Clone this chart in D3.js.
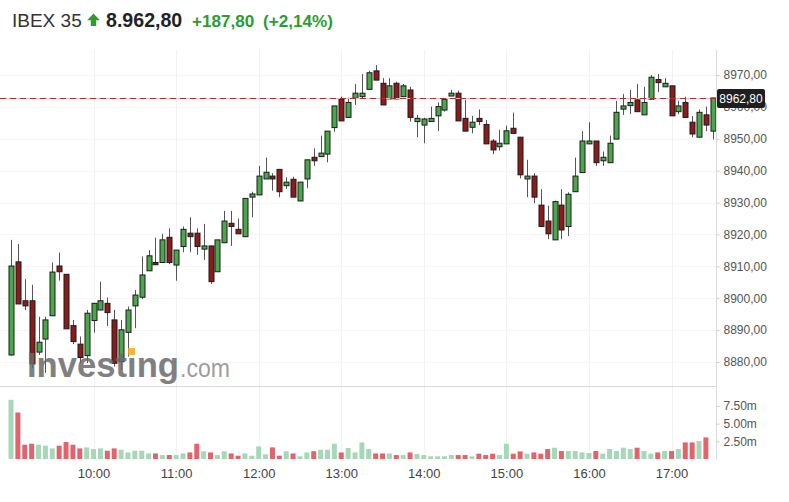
<!DOCTYPE html>
<html><head><meta charset="utf-8">
<script src="https://cdn.jsdelivr.net/npm/d3@7"></script>
<style>body{margin:0;background:#fff}svg{display:block;font-family:"Liberation Sans",Arial,sans-serif}</style>
</head><body><svg id="c" width="789" height="502"></svg>
<script>
const opens=[8882.2,8911.4,8899.2,8899.2,8883.1,8887.2,8894.5,8910.1,8907.5,8891.4,8885.6,8882.0,8893.0,8896.3,8898.4,8893.2,8880.1,8889.3,8897.6,8900.3,8908.6,8911.2,8911.2,8919.1,8910.4,
8916.2,8920.4,8920.4,8915.4,8916.4,8908.3,8917.4,8923.5,8921.6,8919.3,8931.7,8932.4,8937.4,8938.3,8940.4,8935.3,8937.3,8930.5,8937.4,8944.2,8944.4,8945.2,8953.5,8962.4,8956.7,
8962.7,8963.2,8965.5,8971.3,8967.4,8962.5,8967.4,8963.2,8965.3,8955.4,8954.3,8955.4,8957.2,8959.0,8963.4,8964.3,8956.4,8953.6,8956.4,8954.5,8949.3,8947.5,8948.4,8953.3,8950.5,
8937.4,8938.3,8929.2,8924.2,8918.3,8929.2,8922.5,8933.4,8939.4,8948.4,8949.3,8943.1,8942.5,8949.9,8959.3,8960.4,8962.2,8957.5,8962.4,8968.6,8966.3,8966.6,8958.5,8961.4,8955.2,8950.5,8957.5,8952.4];
const highs=[8918.3,8917.0,8906.0,8904.2,8894.2,8894.2,8911.2,8914.3,8907.5,8893.2,8888.0,8896.3,8898.4,8905.2,8900.2,8896.3,8893.2,8897.4,8902.6,8913.1,8915.1,8919.0,8920.2,8921.9,8915.1,
8922.5,8925.4,8921.9,8923.3,8916.4,8918.3,8927.4,8927.4,8925.0,8931.3,8933.4,8941.5,8944.1,8939.2,8940.4,8937.9,8938.1,8936.4,8943.4,8947.0,8951.0,8952.4,8960.3,8963.2,8962.9,
8967.2,8970.3,8971.3,8973.1,8969.0,8969.0,8967.9,8967.2,8966.3,8957.5,8956.6,8960.1,8961.4,8962.4,8965.3,8965.1,8962.2,8957.2,8959.2,8955.9,8949.9,8952.8,8954.1,8958.2,8950.5,
8943.4,8939.2,8934.2,8929.0,8930.6,8934.2,8933.2,8944.1,8952.4,8955.2,8949.3,8946.0,8951.0,8961.9,8964.0,8965.3,8967.2,8966.3,8970.0,8970.3,8969.0,8966.6,8961.9,8963.2,8957.1,8959.2,8960.1,8962.8];
const lows=[8882.0,8898.2,8896.3,8878.0,8882.2,8876.6,8894.5,8905.5,8890.4,8885.6,8879.6,8879.7,8889.2,8896.3,8891.3,8878.6,8877.5,8881.7,8890.6,8899.7,8908.6,8910.4,8911.2,8910.7,8905.5,
8914.4,8914.4,8913.6,8912.0,8904.5,8908.3,8917.4,8916.4,8920.2,8919.3,8925.4,8932.4,8937.4,8933.7,8931.7,8934.3,8931.7,8930.5,8934.5,8941.5,8944.4,8942.6,8952.2,8955.6,8956.7,
8960.6,8962.7,8965.5,8968.4,8960.6,8962.5,8962.5,8963.2,8955.4,8950.5,8948.6,8955.4,8952.4,8958.5,8963.4,8955.6,8952.4,8951.7,8954.3,8948.4,8945.2,8946.3,8948.4,8951.7,8937.6,
8931.7,8929.8,8922.5,8918.5,8918.3,8918.5,8919.5,8933.4,8939.4,8948.4,8941.5,8941.5,8942.5,8949.9,8957.5,8957.8,8958.5,8957.5,8962.4,8964.6,8966.3,8957.2,8957.7,8956.7,8950.5,8950.5,8952.4,8949.8];
const closes=[8910.1,8898.2,8897.6,8879.4,8886.2,8893.2,8908.2,8908.3,8890.4,8886.4,8881.4,8895.3,8898.4,8899.2,8895.5,8879.6,8890.1,8896.3,8901.0,8907.3,8913.3,8910.5,8918.3,8911.2,8915.1,
8921.6,8919.3,8916.2,8916.4,8905.2,8918.3,8924.2,8922.5,8920.2,8931.3,8932.7,8938.3,8939.5,8937.4,8933.4,8936.4,8931.7,8936.4,8943.4,8943.1,8945.5,8952.4,8960.3,8955.6,8961.4,
8964.3,8964.3,8970.7,8968.4,8960.6,8966.6,8962.5,8966.6,8956.7,8956.4,8956.2,8956.4,8960.1,8962.4,8964.3,8955.6,8952.4,8955.2,8955.4,8948.4,8946.5,8948.6,8952.5,8951.7,8938.7,
8938.3,8931.7,8922.5,8920.2,8930.3,8921.4,8932.6,8938.3,8949.3,8949.3,8942.5,8944.2,8948.6,8958.3,8960.3,8961.4,8958.5,8961.4,8969.3,8967.6,8967.4,8957.2,8960.3,8956.7,8951.5,8958.3,8954.3,8962.8];
const volumes=[8.37,6.58,2.02,2.16,2.02,1.88,1.5,1.88,2.4,2.02,1.5,1.64,1.41,1.5,1.17,1.5,1.31,0.93,1.17,1.17,0.79,0.79,0.56,0.56,0.56,0.79,0.93,2.16,1.1,0.93,
0.56,1.1,0.79,0.47,0.79,0.47,1.78,0.66,1.64,0.47,1.1,0.79,0.38,0.93,1.1,1.31,1.31,2.16,0.93,1.55,0.93,2.35,1.41,0.79,0.79,0.79,
0.56,0.56,0.93,0.7,0.56,0.38,0.38,0.38,0.56,0.56,0.56,0.38,0.75,0.56,0.75,0.56,2.16,0.75,1.08,0.75,0.93,0.75,1.41,1.6,1.13,1.13,1.13,0.93,0.85,1.13,
0.75,1.41,1.13,1.6,1.41,1.6,1.13,0.75,0.93,1.13,1.13,1.41,2.35,2.35,2.54,3.05];
const priceTicks=[8880,8890,8900,8910,8920,8930,8940,8950,8960,8970];
const volumeTicks=[2.5,5,7.5];
const hourLabels=["10:00","11:00","12:00","13:00","14:00","15:00","16:00","17:00"];
const lastPrice=8962.80;
const headerName="IBEX 35", headerPrice="8.962,80", headerChange="+187,80", headerPct="(+2,14%)";

const svg=d3.select("#c");
svg.append("rect").attr("width",789).attr("height",502).attr("fill","#fff");
const day=(h,m)=>new Date(2020,0,1,h,m);
const times=opens.map((_,i)=>day(9,5*i));
const x=d3.scaleTime().domain([day(9,0),day(17,0)]).range([11,671.5]);
const y=d3.scaleLinear().domain([8880,8970]).range([362,75]);
const yv=d3.scaleLinear().domain([0,7.5]).range([459,406]);
const plotR=716;
const hours=hourLabels.map(s=>{const [h,m]=s.split(":");return day(+h,+m);});

// header
const G="#2d9d2d";
svg.append("text").attr("x",12).attr("y",27).attr("font-size",19).attr("fill","#333").text(headerName);
svg.append("path").attr("d","M93.5,13.5 L99.8,20.3 L96.2,20.3 L96.2,26 L90.8,26 L90.8,20.3 L87.2,20.3 Z").attr("fill",G);
svg.append("text").attr("x",106).attr("y",27).attr("font-size",19.6).attr("font-weight","bold").attr("fill","#222").text(headerPrice);
svg.append("text").attr("x",192).attr("y",27).attr("font-size",17.1).attr("font-weight","bold").attr("fill",G).text(headerChange);
svg.append("text").attr("x",263).attr("y",27).attr("font-size",17.1).attr("font-weight","bold").attr("fill",G).text(headerPct);

// grid
svg.append("g").selectAll("line").data(hours).join("line")
  .attr("x1",d=>Math.round(x(d))+0.5).attr("x2",d=>Math.round(x(d))+0.5).attr("y1",50).attr("y2",459)
  .attr("stroke","#f2f2f2");
svg.append("g").selectAll("line").data(priceTicks).join("line")
  .attr("x1",0).attr("x2",plotR).attr("y1",d=>Math.round(y(d))+0.5).attr("y2",d=>Math.round(y(d))+0.5)
  .attr("stroke","#f6f6f6");
// separator
svg.append("line").attr("x1",0).attr("x2",plotR).attr("y1",386.5).attr("y2",386.5).attr("stroke","#d9d9d9");

// volume bars
const up=i=>closes[i]>=opens[i];
svg.append("g").selectAll("rect").data(volumes).join("rect")
  .attr("x",(d,i)=>x(times[i])-2.5).attr("width",5)
  .attr("y",d=>yv(d)).attr("height",d=>yv(0)-yv(d))
  .attr("fill",(d,i)=>up(i)?"#a6d8b8":"#e2636c");

// candles
const cg=svg.append("g");
opens.forEach((o,i)=>{
  const cx=Math.round(x(times[i]))+0.5;
  cg.append("line").attr("x1",cx).attr("x2",cx).attr("y1",y(highs[i])).attr("y2",y(lows[i])).attr("stroke","#555").attr("stroke-width",1);
  const top=y(Math.max(o,closes[i])), bot=y(Math.min(o,closes[i]));
  cg.append("rect").attr("x",cx-2.5).attr("width",5).attr("y",top).attr("height",Math.max(2,bot-top))
    .attr("fill",up(i)?"#4aa84a":"#8c1b1b").attr("stroke","#1b1b1b").attr("stroke-width",1);
});

// last price line
const ly=Math.round(y(lastPrice))+0.5;
svg.append("line").attr("x1",0).attr("x2",plotR).attr("y1",ly).attr("y2",ly).attr("stroke","#f3b9b9").attr("stroke-width",1);
svg.append("line").attr("x1",0).attr("x2",plotR).attr("y1",ly).attr("y2",ly).attr("stroke","#a83232").attr("stroke-width",1).attr("stroke-dasharray","6,4");

// watermark
const wm=svg.append("g").attr("opacity",0.85);
wm.append("text").attr("x",27).attr("y",377).attr("font-size",35).attr("font-weight","bold").attr("fill","#6a6a6a")
  .attr("textLength",152).attr("lengthAdjust","spacingAndGlyphs").text("Investing");
wm.append("text").attr("x",180).attr("y",377).attr("font-size",25).attr("fill","#8d8d8d")
  .attr("textLength",50).attr("lengthAdjust","spacingAndGlyphs").text(".com");
wm.append("rect").attr("x",128).attr("y",348).attr("width",7).attr("height",7).attr("fill","#f5a623");

// price axis
const fmt=d=>d3.format(".2f")(d).replace(".",",");
const pa=svg.append("g").attr("transform",`translate(${plotR+0.5},0)`)
  .call(d3.axisRight(y).tickValues(priceTicks).tickSize(3).tickPadding(4).tickFormat(fmt));
pa.select(".domain").remove();
pa.selectAll("line").attr("stroke","#ccc");
pa.selectAll("text").attr("font-size",12).attr("fill","#555").attr("font-family","Liberation Sans, Arial, sans-serif");
svg.append("line").attr("x1",plotR+0.5).attr("x2",plotR+0.5).attr("y1",50).attr("y2",460).attr("stroke","#dcdcdc");

// volume axis
const va=svg.append("g").attr("transform",`translate(${plotR+0.5},0)`)
  .call(d3.axisRight(yv).tickValues(volumeTicks).tickSize(3).tickPadding(4).tickFormat(d=>d3.format(".2f")(d)+"m"));
va.select(".domain").remove();
va.selectAll("line").attr("stroke","#ccc");
va.selectAll("text").attr("font-size",12).attr("fill","#555").attr("font-family","Liberation Sans, Arial, sans-serif");

// last price box
svg.append("rect").attr("x",717).attr("y",ly-9.5).attr("width",48).attr("height",19).attr("rx",2).attr("fill","#1e1e1e");
svg.append("text").attr("x",741).attr("y",ly+4.3).attr("text-anchor","middle").attr("font-size",12).attr("fill","#fff").text(fmt(lastPrice));

// time axis
const xa=svg.append("g").attr("transform","translate(0,466)")
  .call(d3.axisBottom(x).tickValues(hours).tickSize(0).tickPadding(3).tickFormat(d3.timeFormat("%H:%M")));
xa.select(".domain").remove();
xa.selectAll("text").attr("font-size",13).attr("fill","#444").attr("font-family","Liberation Sans, Arial, sans-serif");
</script></body></html>
